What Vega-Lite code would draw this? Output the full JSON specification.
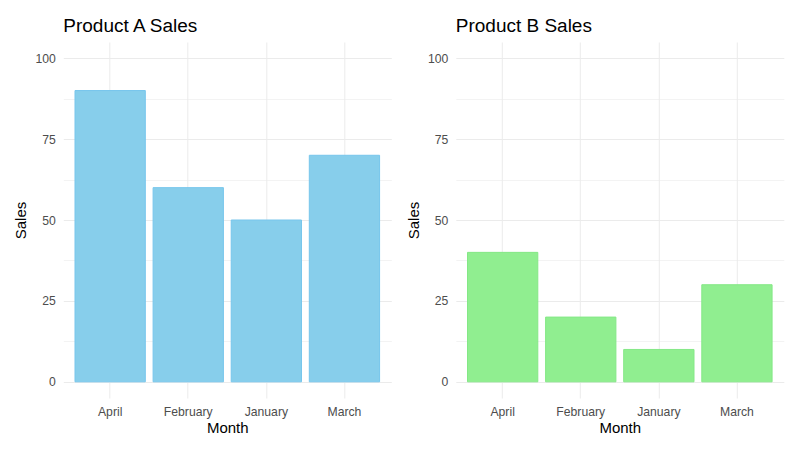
{
  "$schema": "https://vega.github.io/schema/vega-lite/v6.json",
  "background": "white",
  "padding": {"left": 13.3, "top": 17, "right": 16, "bottom": 13},
  "spacing": 14.5,
  "data": {"values": [
    {"product": "A", "Month": "April", "Sales": 90},
    {"product": "A", "Month": "February", "Sales": 60},
    {"product": "A", "Month": "January", "Sales": 50},
    {"product": "A", "Month": "March", "Sales": 70},
    {"product": "B", "Month": "April", "Sales": 40},
    {"product": "B", "Month": "February", "Sales": 20},
    {"product": "B", "Month": "January", "Sales": 10},
    {"product": "B", "Month": "March", "Sales": 30}
  ]},
  "config": {
    "font": "Liberation Sans",
    "view": {"stroke": null},
    "axis": {
      "domain": false,
      "ticks": false,
      "grid": true,
      "gridColor": "#EBEBEB",
      "labelColor": "#4D4D4D",
      "labelFontSize": 12.2,
      "labelFont": "Liberation Sans",
      "titleFont": "Liberation Sans",
      "titleFontSize": 15,
      "titleFontWeight": "normal",
      "titleColor": "black"
    },
    "title": {"anchor": "start", "frame": "group", "fontSize": 19, "fontWeight": "normal", "color": "black", "font": "Liberation Sans", "offset": 6}
  },
  "hconcat": [
    {
      "title": "Product A Sales",
      "width": 328,
      "height": 356,
      "transform": [{"filter": "datum.product === 'A'"}],
      "mark": {"type": "bar", "color": "#87CEEB", "stroke": "#76C6EC", "strokeWidth": 1},
      "encoding": {
        "x": {"field": "Month", "type": "nominal", "title": "Month",
          "scale": {"paddingInner": 0.1, "paddingOuter": 0.15},
          "axis": {"labelAngle": 0, "bandPosition": 0.5, "labelPadding": 8, "titlePadding": 2, "gridWidth": 1}},
        "y": {"field": "Sales", "type": "quantitative", "title": "Sales",
          "scale": {"domain": [-5, 105], "nice": false, "zero": false},
          "axis": {"values": [0, 12.5, 25, 37.5, 50, 62.5, 75, 87.5, 100],
            "labelExpr": "datum.value % 25 === 0 ? datum.label : ''",
            "labelPadding": 8, "titlePadding": 6,
            "gridWidth": {"condition": {"test": "datum.value % 25 === 0", "value": 1}, "value": 0.6}}}
      }
    },
    {
      "title": "Product B Sales",
      "width": 328,
      "height": 356,
      "transform": [{"filter": "datum.product === 'B'"}],
      "mark": {"type": "bar", "color": "#90EE90", "stroke": "#84E886", "strokeWidth": 1},
      "encoding": {
        "x": {"field": "Month", "type": "nominal", "title": "Month",
          "scale": {"paddingInner": 0.1, "paddingOuter": 0.15},
          "axis": {"labelAngle": 0, "bandPosition": 0.5, "labelPadding": 8, "titlePadding": 2, "gridWidth": 1}},
        "y": {"field": "Sales", "type": "quantitative", "title": "Sales",
          "scale": {"domain": [-5, 105], "nice": false, "zero": false},
          "axis": {"values": [0, 12.5, 25, 37.5, 50, 62.5, 75, 87.5, 100],
            "labelExpr": "datum.value % 25 === 0 ? datum.label : ''",
            "labelPadding": 8, "titlePadding": 6,
            "gridWidth": {"condition": {"test": "datum.value % 25 === 0", "value": 1}, "value": 0.6}}}
      }
    }
  ]
}
